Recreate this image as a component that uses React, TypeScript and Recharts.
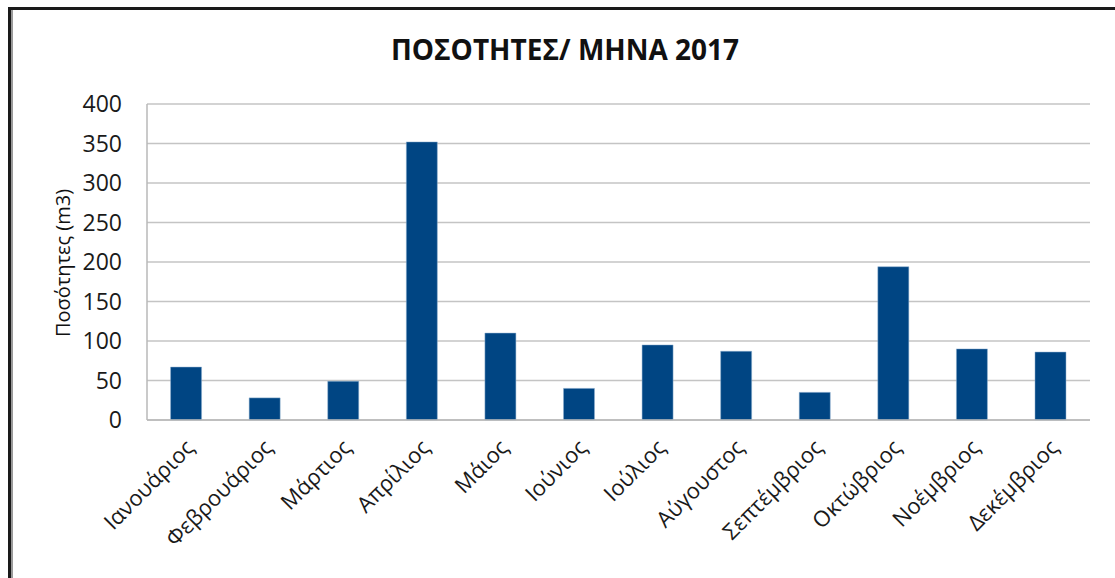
import { BarChart, Bar, XAxis, YAxis, CartesianGrid } from 'recharts';

const months = [
	'Ιανουάριος',
	'Φεβρουάριος',
	'Μάρτιος',
	'Απρίλιος',
	'Μάιος',
	'Ιούνιος',
	'Ιούλιος',
	'Αύγουστος',
	'Σεπτέμβριος',
	'Οκτώβριος',
	'Νοέμβριος',
	'Δεκέμβριος',
];
const quantities = [67, 28, 49, 352, 110, 40, 95, 87, 35, 194, 90, 86];
const yTicks = [0, 50, 100, 150, 200, 250, 300, 350, 400];

const chartData = months.map((m, i) => ({ month: m, value: quantities[i] }));

const FONT = '"Open Sans", sans-serif';

const MonthTick = ({ x, y, payload }: any) => (
	<text
		x={x + 9}
		y={y + 21}
		textAnchor="end"
		fontSize={22}
		fontFamily={FONT}
		fill="#1a1a1a"
		transform={`rotate(-45, ${x + 9}, ${y + 21})`}
	>
		{payload.value}
	</text>
);

export default function App() {
	return (
		<div
			style={{
				position: 'absolute',
				left: 0,
				top: 0,
				width: 1115,
				height: 578,
				background: '#fff',
				overflow: 'hidden',
			}}
		>
			{/* πλαίσιο γραφήματος */}
			<div
				style={{
					position: 'absolute',
					left: 8,
					top: 7,
					width: 1200,
					height: 700,
					borderLeft: '3px solid #1a1a1a',
					borderTop: '3px solid #1a1a1a',
				}}
			/>
			<div
				style={{
					position: 'absolute',
					left: 11,
					top: 10,
					width: 1200,
					height: 700,
					borderLeft: '2px solid #9a9a9a',
				}}
			/>
			<div
				style={{
					position: 'absolute',
					left: 0,
					top: 30,
					width: 1130,
					textAlign: 'center',
					fontFamily: FONT,
					fontWeight: 700,
					fontSize: 28,
					color: '#111',
				}}
			>
				ΠΟΣΟΤΗΤΕΣ/ ΜΗΝΑ 2017
			</div>
			<div
				style={{
					position: 'absolute',
					left: 62,
					top: 263,
					transform: 'translate(-50%, -50%) rotate(-90deg)',
					whiteSpace: 'nowrap',
					fontFamily: FONT,
					fontSize: 20,
					color: '#111',
				}}
			>
				Ποσότητες (m3)
			</div>
			<div style={{ position: 'absolute', left: 0, top: 0 }}>
				<BarChart
					width={1115}
					height={578}
					data={chartData}
					margin={{ top: 104, right: 25, left: 0, bottom: 0 }}
					barCategoryGap="30%"
				>
					<CartesianGrid vertical={false} stroke="#c4c4c4" strokeWidth={1.5} />
					<XAxis
						dataKey="month"
						height={158}
						interval={0}
						tickLine={false}
						axisLine={{ stroke: '#b8b8b8', strokeWidth: 1.5 }}
						tick={<MonthTick />}
					/>
					<YAxis
						width={147}
						domain={[0, 400]}
						ticks={yTicks}
						tickLine={false}
						tickSize={0}
						tickMargin={25}
						axisLine={{ stroke: '#b8b8b8', strokeWidth: 1.5 }}
						tick={{ fontSize: 23, fontFamily: FONT, fill: '#1a1a1a' }}
					/>
					<YAxis
						yAxisId="right"
						orientation="right"
						width={0}
						tick={false}
						tickLine={false}
						axisLine={{ stroke: '#b8b8b8', strokeWidth: 1.5 }}
					/>
					<Bar
						dataKey="value"
						fill="#004583"
						stroke="#8fb0d0"
						strokeWidth={0.5}
						isAnimationActive={false}
					/>
				</BarChart>
			</div>
		</div>
	);
}
